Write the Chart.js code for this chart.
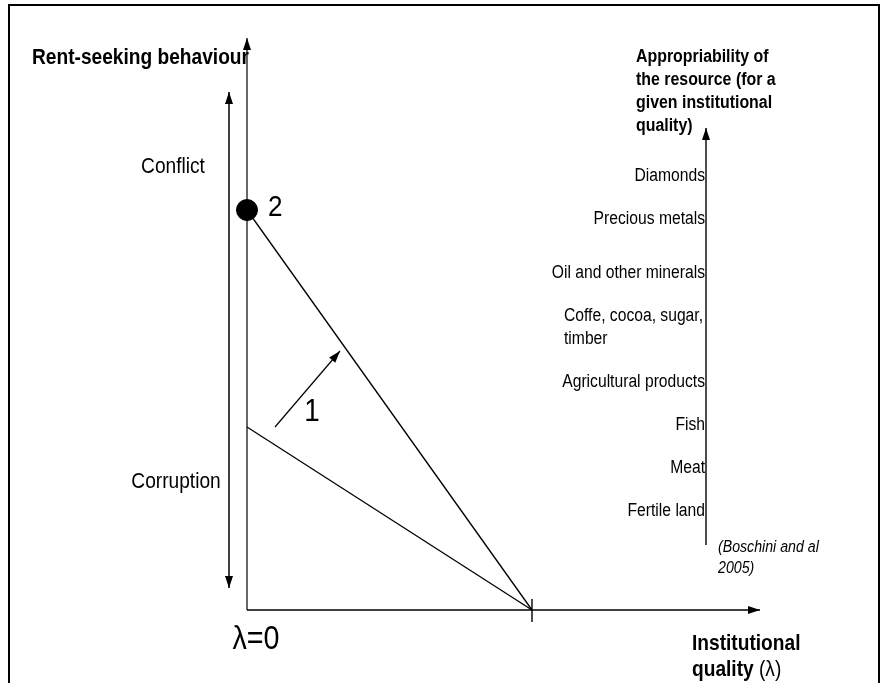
<!DOCTYPE html>
<html>
<head>
<meta charset="utf-8">
<script src="https://cdn.jsdelivr.net/npm/chart.js@4/dist/chart.umd.min.js"></script>
<style>
  html, body { margin: 0; padding: 0; background: #fff; }
  canvas { display: block; }
</style>
</head>
<body>
<canvas id="diagram" width="881" height="683"></canvas>
<script>
// diagram data (x = institutional quality, y = rent-seeking)
var lambdaAxis = [{x: 0, y: 0}, {x: 513, y: 0}];
var rentAxis = [{x: 0, y: 0}, {x: 0, y: 572}];
var lambdaTick = [{x: 285, y: 11}, {x: 285, y: -12}];
var corruptionLine = [{x: 0, y: 183}, {x: 285, y: 0}];
var conflictLine = [{x: 0, y: 400}, {x: 285, y: 0}];
var shiftArrow = [{x: 28, y: 183}, {x: 93, y: 259}];
var regimeArrow = [{x: -18, y: 22}, {x: -18, y: 518}];
var conflictPoint = [{x: 0, y: 400}];

// appropriability axis, resources ranked along it
var apprAxis = [{x: 459, y: 65}, {x: 459, y: 482}];
var resources = ['Diamonds', 'Precious metals', 'Oil and other minerals',
  ['Coffe, cocoa, sugar,', 'timber'], 'Agricultural products', 'Fish', 'Meat', 'Fertile land'];
var appropriability = [434, 391, 337, 282, 228, 185, 142, 99];

var FONT = '"Liberation Sans", Arial, sans-serif';
var SX = 0.87; // text in the picture is a bit narrow

function txt(ctx, s, x, y, size, weight, align, style) {
  ctx.save();
  ctx.font = (style || '') + ' ' + (weight || 'normal') + ' ' + size + 'px ' + FONT;
  ctx.textBaseline = 'middle';
  ctx.textAlign = align || 'left';
  ctx.fillStyle = '#000';
  ctx.translate(x, y);
  ctx.scale(SX, 1);
  ctx.fillText(s, 0, 0);
  ctx.restore();
}

function textWidth(ctx, s, size, weight) {
  ctx.save();
  ctx.font = (weight || 'normal') + ' ' + size + 'px ' + FONT;
  var w = ctx.measureText(s).width * SX;
  ctx.restore();
  return w;
}

var framePlugin = {
  id: 'frame',
  beforeDraw: function (chart) {
    var ctx = chart.ctx;
    ctx.save();
    ctx.fillStyle = '#fff';
    ctx.fillRect(0, 0, chart.width, chart.height);
    ctx.strokeStyle = '#000';
    ctx.lineWidth = 2;
    ctx.beginPath();
    ctx.moveTo(9, 683); ctx.lineTo(9, 5); ctx.lineTo(879, 5); ctx.lineTo(879, 683);
    ctx.stroke();
    ctx.restore();
  }
};

var arrowPlugin = {
  id: 'arrows',
  afterDatasetsDraw: function (chart) {
    var ctx = chart.ctx;
    chart.data.datasets.forEach(function (ds, i) {
      if (!ds.arrowHeads) return;
      var pts = chart.getDatasetMeta(i).data;
      var ends = ds.arrowHeads == 'both' ? [[pts[0], pts[1]], [pts[1], pts[0]]] : [[pts[1], pts[0]]];
      ends.forEach(function (e) {
        var tip = e[0], from = e[1];
        var a = Math.atan2(tip.y - from.y, tip.x - from.x);
        ctx.save();
        ctx.translate(tip.x, tip.y);
        ctx.rotate(a);
        ctx.fillStyle = '#000';
        ctx.beginPath();
        ctx.moveTo(0, 0);
        ctx.lineTo(-12, -4);
        ctx.lineTo(-12, 4);
        ctx.closePath();
        ctx.fill();
        ctx.restore();
      });
    });
  }
};

var textPlugin = {
  id: 'labels',
  afterDraw: function (chart) {
    var ctx = chart.ctx;
    var xs = chart.scales.x, ys = chart.scales.y;
    function px(v) { return xs.getPixelForValue(v); }
    function py(v) { return ys.getPixelForValue(v); }

    txt(ctx, 'Rent-seeking behaviour', 32, 58, 22, 'bold');
    txt(ctx, 'Conflict', px(-74), py(443), 22, 'normal', 'center');
    txt(ctx, 'Corruption', px(-71), py(128), 22, 'normal', 'center');
    txt(ctx, '2', px(21), py(402), 30);
    txt(ctx, '1', px(65), py(198), 32, 'normal', 'center');
    txt(ctx, '\u03bb=0', px(9), py(-30), 33, 'normal', 'center');

    var ax = px(apprAxis[0].x);
    var title = ['Appropriability of', 'the resource (for a', 'given institutional', 'quality)'];
    title.forEach(function (l, i) { txt(ctx, l, 636, 57 + i * 23, 18.3, 'bold'); });

    resources.forEach(function (r, i) {
      var y = py(appropriability[i]);
      if (Array.isArray(r)) {
        var w = Math.max.apply(null, r.map(function (s) { return textWidth(ctx, s, 18); }));
        r.forEach(function (s, k) {
          txt(ctx, s, ax - 3 - w, y + (k - (r.length - 1) / 2) * 23, 18);
        });
      } else {
        txt(ctx, r, ax - 1, y, 18, 'normal', 'right');
      }
    });

    txt(ctx, '(Boschini and al', 718, 547, 16.3, 'normal', 'left', 'italic');
    txt(ctx, '2005)', 718, 568, 16.3, 'normal', 'left', 'italic');

    txt(ctx, 'Institutional', 692, 644, 22, 'bold');
    txt(ctx, 'quality ', 692, 670, 22, 'bold');
    txt(ctx, '(\u03bb)', 692 + textWidth(ctx, 'quality ', 22, 'bold'), 670, 22);
  }
};

function seg(data, width, arrowHeads) {
  return {
    data: data, showLine: true, borderColor: '#000', borderWidth: width,
    pointRadius: 0, fill: false, clip: false, arrowHeads: arrowHeads
  };
}

new Chart(document.getElementById('diagram').getContext('2d'), {
  type: 'scatter',
  data: {
    datasets: [
      seg(rentAxis, 1.2, 'end'),
      seg(lambdaAxis, 1.6, 'end'),
      seg(lambdaTick, 1.4),
      seg(corruptionLine, 1.3),
      seg(conflictLine, 1.3),
      seg(shiftArrow, 1.2, 'end'),
      seg(regimeArrow, 1.5, 'both'),
      seg(apprAxis, 1.4, 'end'),
      {
        data: conflictPoint, pointRadius: 10.5, pointBackgroundColor: '#000',
        pointBorderColor: '#000', showLine: false, clip: false
      }
    ]
  },
  options: {
    responsive: false,
    animation: false,
    layout: { padding: 0, autoPadding: false },
    plugins: { legend: { display: false }, tooltip: { enabled: false } },
    scales: {
      x: { type: 'linear', min: -247, max: 634, display: false },
      y: { type: 'linear', min: -73, max: 610, display: false }
    }
  },
  plugins: [framePlugin, arrowPlugin, textPlugin]
});
</script>
</body>
</html>
